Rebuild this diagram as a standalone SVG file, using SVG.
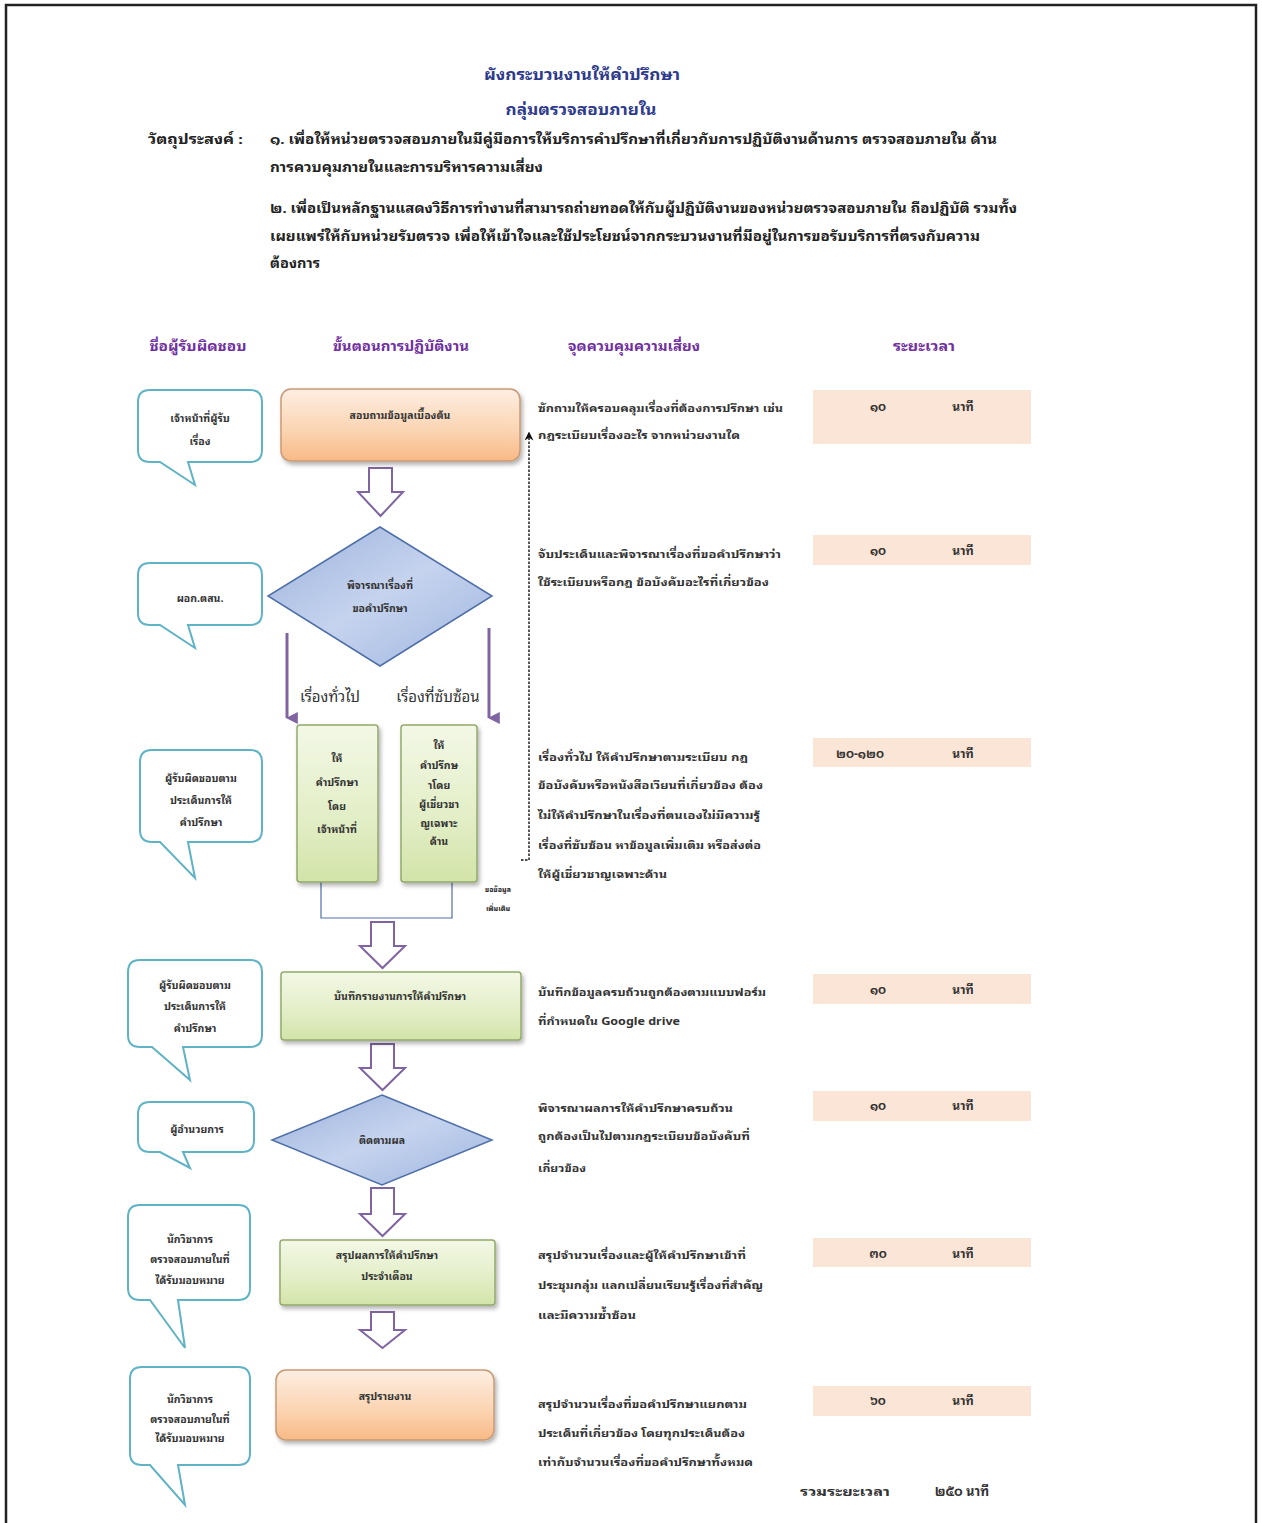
<svg xmlns="http://www.w3.org/2000/svg" width="1262" height="1523" viewBox="0 0 1262 1523">
<defs>
<linearGradient id="gOrange" x1="0" y1="0" x2="0" y2="1">
<stop offset="0" stop-color="#fdeee2"/><stop offset="0.6" stop-color="#fbd3b0"/><stop offset="1" stop-color="#f8b985"/>
</linearGradient>
<linearGradient id="gGreen" x1="0" y1="0" x2="0" y2="1">
<stop offset="0" stop-color="#f3f8e6"/><stop offset="0.6" stop-color="#e2eec6"/><stop offset="1" stop-color="#d2e4a8"/>
</linearGradient>
<linearGradient id="gBlue" x1="0" y1="0" x2="1" y2="1">
<stop offset="0" stop-color="#9cb2dc"/><stop offset="0.5" stop-color="#c5d3ee"/><stop offset="1" stop-color="#9fb6df"/>
</linearGradient>
<filter id="sh" x="-10%" y="-10%" width="125%" height="130%">
<feDropShadow dx="2" dy="3" stdDeviation="2" flood-color="#000" flood-opacity="0.3"/>
</filter>
<marker id="mPurple" viewBox="0 0 10 10" refX="5" refY="9" markerWidth="4" markerHeight="4" orient="auto-start-reverse" markerUnits="strokeWidth">
<path d="M0,0 L10,0 L5,10 z" fill="#8064a2"/>
</marker>
<marker id="mBlack" viewBox="0 0 10 10" refX="5" refY="5" markerWidth="9" markerHeight="9" orient="auto" markerUnits="userSpaceOnUse">
<path d="M0,0 L10,5 L0,10 L3,5 z" fill="#111"/>
</marker>
</defs>
<style>
text{font-family:"Noto Sans Thai Looped","Tahoma","Noto Sans Thai","DejaVu Sans","Noto Sans",sans-serif;fill:#222;}
.title{font-size:15px;font-weight:bold;fill:#2e3a8c;}
.obj{font-size:13px;font-weight:bold;fill:#222;}
.hdr{font-size:13px;font-weight:bold;fill:#7030a0;}
.ctl{font-size:11px;font-weight:bold;fill:#333;}
.box{font-size:10.5px;font-weight:bold;fill:#333;}
.co{font-size:10.5px;font-weight:bold;fill:#333;}
.tm{font-size:12px;font-weight:bold;fill:#333;}
.lbl{font-size:15px;fill:#333;}
.callout{fill:#fff;stroke:#5fb3c4;stroke-width:2;}
.orange{fill:url(#gOrange);stroke:#c79a75;stroke-width:1.5;filter:url(#sh);}
.green{fill:url(#gGreen);stroke:#93a96b;stroke-width:1.5;filter:url(#sh);}
.diam{fill:url(#gBlue);stroke:#4f6fa8;stroke-width:1.5;}
.barrow{fill:#fff;stroke:#8064a2;stroke-width:2;stroke-linejoin:miter;}
.timebox{fill:#fbe5d6;}
.branch{stroke:#8064a2;stroke-width:3;fill:none;}
.bracket{stroke:#4f6fa8;stroke-width:1.2;fill:none;}
.dash{stroke:#111;stroke-width:1.4;stroke-dasharray:2.5,1.5;fill:none;}
</style>
<rect x="0" y="0" width="1262" height="1523" fill="#fff"/>
<path d="M6,1523 V5 H1256 V1523" fill="none" stroke="#222" stroke-width="2.5"/>

<g id="header">
<text class="title" x="582" y="80" text-anchor="middle" textLength="196" lengthAdjust="spacingAndGlyphs">ผังกระบวนงานให้คำปรึกษา</text>
<text class="title" x="581" y="115" text-anchor="middle" textLength="151" lengthAdjust="spacingAndGlyphs">กลุ่มตรวจสอบภายใน</text>
<text class="obj" x="148" y="144" textLength="95" lengthAdjust="spacingAndGlyphs">วัตถุประสงค์ :</text>
<text class="obj" x="270" y="144" textLength="727" lengthAdjust="spacingAndGlyphs">๑. เพื่อให้หน่วยตรวจสอบภายในมีคู่มือการให้บริการคำปรึกษาที่เกี่ยวกับการปฏิบัติงานด้านการ ตรวจสอบภายใน ด้าน</text>
<text class="obj" x="270" y="172" textLength="273" lengthAdjust="spacingAndGlyphs">การควบคุมภายในและการบริหารความเสี่ยง</text>
<text class="obj" x="270" y="213" textLength="747" lengthAdjust="spacingAndGlyphs">๒. เพื่อเป็นหลักฐานแสดงวิธีการทำงานที่สามารถถ่ายทอดให้กับผู้ปฏิบัติงานของหน่วยตรวจสอบภายใน ถือปฏิบัติ รวมทั้ง</text>
<text class="obj" x="270" y="241" textLength="710" lengthAdjust="spacingAndGlyphs">เผยแพร่ให้กับหน่วยรับตรวจ เพื่อให้เข้าใจและใช้ประโยชน์จากกระบวนงานที่มีอยู่ในการขอรับบริการที่ตรงกับความ</text>
<text class="obj" x="270" y="268" textLength="50" lengthAdjust="spacingAndGlyphs">ต้องการ</text>
<text class="hdr" x="198" y="351" text-anchor="middle" textLength="97" lengthAdjust="spacingAndGlyphs">ชื่อผู้รับผิดชอบ</text>
<text class="hdr" x="401" y="351" text-anchor="middle" textLength="136" lengthAdjust="spacingAndGlyphs">ขั้นตอนการปฏิบัติงาน</text>
<text class="hdr" x="634" y="351" text-anchor="middle" textLength="132" lengthAdjust="spacingAndGlyphs">จุดควบคุมความเสี่ยง</text>
<text class="hdr" x="924" y="351" text-anchor="middle" textLength="62" lengthAdjust="spacingAndGlyphs">ระยะเวลา</text>
</g>

<g id="connectors">
<path class="barrow" d="M369,468 H392 V492 H403 L380.5,516 L358,492 H369 Z"/>
<line class="branch" x1="287" y1="633" x2="287" y2="718" marker-end="url(#mPurple)"/>
<line class="branch" x1="489" y1="628" x2="489" y2="718" marker-end="url(#mPurple)"/>
<path class="bracket" d="M321,882 V918 H452 V882"/>
<path class="barrow" d="M371,922 H394 V946 H405 L382.5,968 L360,946 H371 Z"/>
<path class="barrow" d="M371,1044 H394 V1068 H405 L382.5,1090 L360,1068 H371 Z"/>
<path class="barrow" d="M371,1188 H394 V1214 H405 L382.5,1236 L360,1214 H371 Z"/>
<path class="barrow" d="M371,1312 H394 V1330 H405 L382.5,1348 L360,1330 H371 Z"/>
<path class="dash" d="M521,860 H529 V436" marker-end="url(#mBlack)"/>
</g>

<g id="row1">
<g id="callout1"><path class="callout" d="M150,390 H250 Q262,390 262,402 V450 Q262,462 250,462 H188 L195,485 L160,462 H150 Q138,462 138,450 V402 Q138,390 150,390 Z"/>
<text class="co" x="200" y="422" text-anchor="middle">เจ้าหน้าที่ผู้รับ</text><text class="co" x="200" y="445" text-anchor="middle">เรื่อง</text></g>
<g id="step1"><rect class="orange" x="281" y="389" width="239" height="72" rx="10"/>
<text class="box" x="400" y="419" text-anchor="middle">สอบถามข้อมูลเบื้องต้น</text></g>
<g id="ctl1"><text class="ctl" x="538" y="412" textLength="245" lengthAdjust="spacingAndGlyphs">ซักถามให้ครอบคลุมเรื่องที่ต้องการปรึกษา เช่น</text>
<text class="ctl" x="538" y="439" textLength="202" lengthAdjust="spacingAndGlyphs">กฎระเบียบเรื่องอะไร จากหน่วยงานใด</text></g>
<g id="time1"><rect class="timebox" x="813" y="390" width="218" height="54"/>
<text class="tm" x="878" y="411" text-anchor="middle">๑๐</text><text class="tm" x="963" y="411" text-anchor="middle">นาที</text></g>
</g>

<g id="row2">
<g id="callout2"><path class="callout" d="M150,563 H250 Q262,563 262,575 V613 Q262,625 250,625 H188 L195,648 L160,625 H150 Q138,625 138,613 V575 Q138,563 150,563 Z"/>
<text class="co" x="200" y="602" text-anchor="middle">ผอก.ตสน.</text></g>
<g id="step2"><path class="diam" d="M380,527 L492,596 L380,666 L268,596 Z"/>
<text class="box" x="380" y="589" text-anchor="middle">พิจารณาเรื่องที่</text><text class="box" x="380" y="612" text-anchor="middle">ขอคำปรึกษา</text></g>
<text class="lbl" x="330" y="702" text-anchor="middle">เรื่องทั่วไป</text>
<text class="lbl" x="438" y="702" text-anchor="middle">เรื่องที่ซับซ้อน</text>
<g id="ctl2"><text class="ctl" x="538" y="558" textLength="243" lengthAdjust="spacingAndGlyphs">จับประเด็นและพิจารณาเรื่องที่ขอคำปรึกษาว่า</text>
<text class="ctl" x="538" y="586" textLength="231" lengthAdjust="spacingAndGlyphs">ใช้ระเบียบหรือกฎ ข้อบังคับอะไรที่เกี่ยวข้อง</text></g>
<g id="time2"><rect class="timebox" x="813" y="535" width="218" height="30"/>
<text class="tm" x="878" y="555" text-anchor="middle">๑๐</text><text class="tm" x="963" y="555" text-anchor="middle">นาที</text></g>
</g>

<g id="row3">
<g id="callout3"><path class="callout" d="M152,750 H250 Q262,750 262,762 V830 Q262,842 250,842 H188 L195,878 L160,842 H152 Q140,842 140,830 V762 Q140,750 152,750 Z"/>
<text class="co" x="201" y="782" text-anchor="middle">ผู้รับผิดชอบตาม</text><text class="co" x="201" y="804" text-anchor="middle">ประเด็นการให้</text><text class="co" x="201" y="826" text-anchor="middle">คำปรึกษา</text></g>
<g id="step3a"><rect class="green" x="297" y="725" width="81" height="157" rx="3"/>
<text class="box" x="337" y="762" text-anchor="middle">ให้</text><text class="box" x="337" y="786" text-anchor="middle">คำปรึกษา</text><text class="box" x="337" y="810" text-anchor="middle">โดย</text><text class="box" x="337" y="833" text-anchor="middle">เจ้าหน้าที่</text></g>
<g id="step3b"><rect class="green" x="401" y="725" width="76" height="157" rx="3"/>
<text class="box" x="439" y="749" text-anchor="middle">ให้</text><text class="box" x="439" y="769" text-anchor="middle">คำปรึกษ</text><text class="box" x="439" y="789" text-anchor="middle">าโดย</text><text class="box" x="439" y="808" text-anchor="middle">ผู้เชี่ยวชา</text><text class="box" x="439" y="827" text-anchor="middle">ญเฉพาะ</text><text class="box" x="439" y="845" text-anchor="middle">ด้าน</text></g>
<text x="498" y="892" text-anchor="middle" style="font-size:7px;font-weight:bold">ขอข้อมูล</text>
<text x="498" y="911" text-anchor="middle" style="font-size:7px;font-weight:bold">เพิ่มเติม</text>
<g id="ctl3"><text class="ctl" x="538" y="761" textLength="210" lengthAdjust="spacingAndGlyphs">เรื่องทั่วไป ให้คำปรึกษาตามระเบียบ กฎ</text>
<text class="ctl" x="538" y="789" textLength="225" lengthAdjust="spacingAndGlyphs">ข้อบังคับหรือหนังสือเวียนที่เกี่ยวข้อง  ต้อง</text>
<text class="ctl" x="538" y="819" textLength="222" lengthAdjust="spacingAndGlyphs">ไม่ให้คำปรึกษาในเรื่องที่ตนเองไม่มีความรู้</text>
<text class="ctl" x="538" y="849" textLength="223" lengthAdjust="spacingAndGlyphs">เรื่องที่ซับซ้อน หาข้อมูลเพิ่มเติม หรือส่งต่อ</text>
<text class="ctl" x="538" y="878" textLength="129" lengthAdjust="spacingAndGlyphs">ให้ผู้เชี่ยวชาญเฉพาะด้าน</text></g>
<g id="time3"><rect class="timebox" x="813" y="738" width="218" height="29"/>
<text class="tm" x="860" y="758" text-anchor="middle">๒๐-๑๒๐</text><text class="tm" x="963" y="758" text-anchor="middle">นาที</text></g>
</g>

<g id="row4">
<g id="callout4"><path class="callout" d="M140,960 H250 Q262,960 262,972 V1035 Q262,1047 250,1047 H183 L190,1080 L152,1047 H140 Q128,1047 128,1035 V972 Q128,960 140,960 Z"/>
<text class="co" x="195" y="989" text-anchor="middle">ผู้รับผิดชอบตาม</text><text class="co" x="195" y="1010" text-anchor="middle">ประเด็นการให้</text><text class="co" x="195" y="1032" text-anchor="middle">คำปรึกษา</text></g>
<g id="step4"><rect class="green" x="281" y="972" width="240" height="68" rx="3"/>
<text class="box" x="400" y="1000" text-anchor="middle">บันทึกรายงานการให้คำปรึกษา</text></g>
<g id="ctl4"><text class="ctl" x="538" y="996" textLength="228" lengthAdjust="spacingAndGlyphs">บันทึกข้อมูลครบถ้วนถูกต้องตามแบบฟอร์ม</text>
<text class="ctl" x="538" y="1025" textLength="142" lengthAdjust="spacingAndGlyphs">ที่กำหนดใน Google drive</text></g>
<g id="time4"><rect class="timebox" x="813" y="974" width="218" height="30"/>
<text class="tm" x="878" y="994" text-anchor="middle">๑๐</text><text class="tm" x="963" y="994" text-anchor="middle">นาที</text></g>
</g>

<g id="row5">
<g id="callout5"><path class="callout" d="M150,1102 H242 Q254,1102 254,1114 V1140 Q254,1152 242,1152 H183 L190,1168 L160,1152 H150 Q138,1152 138,1140 V1114 Q138,1102 150,1102 Z"/>
<text class="co" x="197" y="1133" text-anchor="middle">ผู้อำนวยการ</text></g>
<g id="step5"><path class="diam" d="M382,1095 L492,1140 L382,1185 L272,1140 Z"/>
<text class="box" x="382" y="1144" text-anchor="middle">ติดตามผล</text></g>
<g id="ctl5"><text class="ctl" x="538" y="1112" textLength="195" lengthAdjust="spacingAndGlyphs">พิจารณาผลการให้คำปรึกษาครบถ้วน</text>
<text class="ctl" x="538" y="1140" textLength="212" lengthAdjust="spacingAndGlyphs">ถูกต้องเป็นไปตามกฎระเบียบข้อบังคับที่</text>
<text class="ctl" x="538" y="1172" textLength="48" lengthAdjust="spacingAndGlyphs">เกี่ยวข้อง</text></g>
<g id="time5"><rect class="timebox" x="813" y="1091" width="218" height="30"/>
<text class="tm" x="878" y="1110" text-anchor="middle">๑๐</text><text class="tm" x="963" y="1110" text-anchor="middle">นาที</text></g>
</g>

<g id="row6">
<g id="callout6"><path class="callout" d="M140,1205 H238 Q250,1205 250,1217 V1288 Q250,1300 238,1300 H178 L185,1348 L150,1300 H140 Q128,1300 128,1288 V1217 Q128,1205 140,1205 Z"/>
<text class="co" x="190" y="1243" text-anchor="middle">นักวิชาการ</text><text class="co" x="190" y="1263" text-anchor="middle">ตรวจสอบภายในที่</text><text class="co" x="190" y="1284" text-anchor="middle">ได้รับมอบหมาย</text></g>
<g id="step6"><rect class="green" x="280" y="1240" width="215" height="65" rx="3"/>
<text class="box" x="387" y="1259" text-anchor="middle">สรุปผลการให้คำปรึกษา</text><text class="box" x="387" y="1280" text-anchor="middle">ประจำเดือน</text></g>
<g id="ctl6"><text class="ctl" x="538" y="1259" textLength="208" lengthAdjust="spacingAndGlyphs">สรุปจำนวนเรื่องและผู้ให้คำปรึกษาเข้าที่</text>
<text class="ctl" x="538" y="1289" textLength="225" lengthAdjust="spacingAndGlyphs">ประชุมกลุ่ม แลกเปลี่ยนเรียนรู้เรื่องที่สำคัญ</text>
<text class="ctl" x="538" y="1319" textLength="98" lengthAdjust="spacingAndGlyphs">และมีความซ้ำซ้อน</text></g>
<g id="time6"><rect class="timebox" x="813" y="1238" width="218" height="29"/>
<text class="tm" x="878" y="1258" text-anchor="middle">๓๐</text><text class="tm" x="963" y="1258" text-anchor="middle">นาที</text></g>
</g>

<g id="row7">
<g id="callout7"><path class="callout" d="M142,1367 H238 Q250,1367 250,1379 V1453 Q250,1465 238,1465 H178 L185,1505 L150,1465 H142 Q130,1465 130,1453 V1379 Q130,1367 142,1367 Z"/>
<text class="co" x="190" y="1403" text-anchor="middle">นักวิชาการ</text><text class="co" x="190" y="1423" text-anchor="middle">ตรวจสอบภายในที่</text><text class="co" x="190" y="1442" text-anchor="middle">ได้รับมอบหมาย</text></g>
<g id="step7"><rect class="orange" x="276" y="1370" width="218" height="70" rx="10"/>
<text class="box" x="385" y="1400" text-anchor="middle">สรุปรายงาน</text></g>
<g id="ctl7"><text class="ctl" x="538" y="1408" textLength="209" lengthAdjust="spacingAndGlyphs">สรุปจำนวนเรื่องที่ขอคำปรึกษาแยกตาม</text>
<text class="ctl" x="538" y="1437" textLength="207" lengthAdjust="spacingAndGlyphs">ประเด็นที่เกี่ยวข้อง โดยทุกประเด็นต้อง</text>
<text class="ctl" x="538" y="1466" textLength="215" lengthAdjust="spacingAndGlyphs">เท่ากับจำนวนเรื่องที่ขอคำปรึกษาทั้งหมด</text></g>
<g id="time7"><rect class="timebox" x="813" y="1386" width="218" height="30"/>
<text class="tm" x="878" y="1405" text-anchor="middle">๖๐</text><text class="tm" x="963" y="1405" text-anchor="middle">นาที</text></g>
<g id="total"><text class="tm" x="845" y="1496" text-anchor="middle" textLength="90" lengthAdjust="spacingAndGlyphs">รวมระยะเวลา</text>
<text class="tm" x="962" y="1496" text-anchor="middle" style="font-size:13px">๒๕๐ นาที</text></g>
</g>
</svg>
